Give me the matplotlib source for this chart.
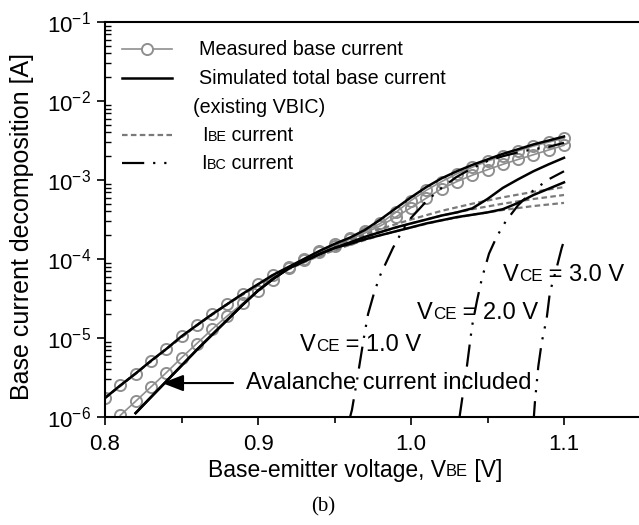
import matplotlib
matplotlib.use('Agg')
import matplotlib.pyplot as plt
from matplotlib.offsetbox import TextArea, HPacker, AnnotationBbox
from matplotlib.ticker import LogLocator, MultipleLocator, FormatStrFormatter, NullFormatter

plt.rcParams['font.family'] = 'Liberation Sans'
plt.rcParams['mathtext.fontset'] = 'custom'
plt.rcParams['mathtext.rm'] = 'Liberation Sans'
plt.rcParams['axes.unicode_minus'] = False

# measured base current, two bias sweeps [V], [A]
vbe_meas_1 = [0.80, 0.81, 0.82, 0.83, 0.84, 0.85, 0.86, 0.87, 0.88, 0.89, 0.90,
              0.91, 0.92, 0.93, 0.94, 0.95, 0.96, 0.97, 0.98, 0.99, 1.00,
              1.01, 1.02, 1.03, 1.04, 1.05, 1.06, 1.07, 1.08, 1.09, 1.10]
ib_meas_1 = [1.74e-6, 2.51e-6, 3.55e-6, 5.13e-6, 7.24e-6, 1.05e-5, 1.45e-5, 2.00e-5, 2.69e-5, 3.63e-5, 4.79e-5,
             6.31e-5, 7.94e-5, 1.00e-4, 1.26e-4, 1.55e-4, 1.86e-4, 2.24e-4, 2.82e-4, 3.89e-4, 5.50e-4,
             7.41e-4, 9.55e-4, 1.20e-3, 1.45e-3, 1.74e-3, 2.00e-3, 2.34e-3, 2.69e-3, 3.02e-3, 3.39e-3]

vbe_meas_2 = [0.81, 0.82, 0.83, 0.84, 0.85, 0.86, 0.87, 0.88, 0.89, 0.90,
              0.91, 0.92, 0.93, 0.94, 0.95, 0.96, 0.97, 0.98, 0.99, 1.00,
              1.01, 1.02, 1.03, 1.04, 1.05, 1.06, 1.07, 1.08, 1.09, 1.10]
ib_meas_2 = [1.05e-6, 1.58e-6, 2.40e-6, 3.63e-6, 5.62e-6, 8.51e-6, 1.29e-5, 1.91e-5, 2.75e-5, 3.89e-5,
             5.50e-5, 7.59e-5, 9.77e-5, 1.23e-4, 1.48e-4, 1.78e-4, 2.14e-4, 2.63e-4, 3.39e-4, 4.47e-4,
             5.89e-4, 7.76e-4, 9.55e-4, 1.15e-3, 1.35e-3, 1.58e-3, 1.82e-3, 2.09e-3, 2.40e-3, 2.75e-3]

# simulated total base current, existing VBIC
vbe_sim = vbe_meas_1
ib_sim_vbic = [1.74e-6, 2.51e-6, 3.55e-6, 5.13e-6, 7.24e-6, 1.05e-5, 1.45e-5, 2.00e-5, 2.69e-5, 3.63e-5, 4.79e-5,
               6.31e-5, 7.94e-5, 1.00e-4, 1.26e-4, 1.55e-4, 1.86e-4, 2.34e-4, 3.16e-4, 4.37e-4, 6.03e-4,
               8.13e-4, 1.05e-3, 1.29e-3, 1.55e-3, 1.82e-3, 2.14e-3, 2.45e-3, 2.82e-3, 3.16e-3, 3.55e-3]

# simulated total base current with avalanche, VCE = 2 V and 3 V
vbe_sim_av = [0.82, 0.83, 0.84, 0.85, 0.86, 0.87, 0.88, 0.89, 0.90,
              0.91, 0.92, 0.93, 0.94, 0.95, 0.96, 0.97, 0.98, 0.99, 1.00,
              1.01, 1.02, 1.03, 1.04, 1.05, 1.06, 1.07, 1.08, 1.09, 1.10]
ib_sim_av_2 = [1.12e-6, 1.78e-6, 2.82e-6, 4.47e-6, 7.08e-6, 1.10e-5, 1.70e-5, 2.63e-5, 3.98e-5,
               5.62e-5, 7.59e-5, 9.33e-5, 1.15e-4, 1.38e-4, 1.62e-4, 1.91e-4, 2.19e-4, 2.51e-4, 2.82e-4,
               3.16e-4, 3.55e-4, 3.89e-4, 4.37e-4, 5.75e-4, 7.94e-4, 1.02e-3, 1.29e-3, 1.58e-3, 1.91e-3]
ib_sim_av_3 = [1.12e-6, 1.78e-6, 2.82e-6, 4.47e-6, 7.08e-6, 1.10e-5, 1.70e-5, 2.63e-5, 3.98e-5,
               5.62e-5, 7.59e-5, 9.33e-5, 1.15e-4, 1.38e-4, 1.55e-4, 1.78e-4, 2.00e-4, 2.24e-4, 2.51e-4,
               2.82e-4, 3.09e-4, 3.39e-4, 3.63e-4, 3.89e-4, 4.27e-4, 5.13e-4, 6.46e-4, 7.76e-4, 9.33e-4]

# IBE component for the three VCE values
vbe_ibe = [0.80, 0.82, 0.84, 0.86, 0.88, 0.90, 0.92, 0.94, 0.96, 0.98, 1.00, 1.02, 1.04, 1.06, 1.08, 1.10]
ibe_1 = [1.74e-6, 3.55e-6, 7.24e-6, 1.45e-5, 2.69e-5, 4.68e-5, 7.76e-5, 1.20e-4,
         1.74e-4, 2.40e-4, 3.16e-4, 4.07e-4, 5.01e-4, 6.03e-4, 7.08e-4, 8.13e-4]
ibe_2 = [1.74e-6, 3.55e-6, 7.24e-6, 1.45e-5, 2.69e-5, 4.68e-5, 7.59e-5, 1.15e-4,
         1.62e-4, 2.19e-4, 2.82e-4, 3.55e-4, 4.27e-4, 5.01e-4, 5.75e-4, 6.46e-4]
ibe_3 = [1.74e-6, 3.55e-6, 7.24e-6, 1.45e-5, 2.69e-5, 4.68e-5, 7.41e-5, 1.10e-4,
         1.51e-4, 2.00e-4, 2.51e-4, 3.09e-4, 3.63e-4, 4.17e-4, 4.68e-4, 5.13e-4]

# IBC component (magnitude) for VCE = 1, 2, 3 V
vbe_ibc_1 = [0.9595, 0.9614, 0.9650, 0.9690, 0.9719, 0.9760, 0.9800, 0.9882, 0.9950, 1.000,
             1.010, 1.020, 1.030, 1.040, 1.050, 1.060, 1.070, 1.080, 1.090, 1.100]
ibc_1 = [8.91e-7, 1.23e-6, 3.16e-6, 9.55e-6, 2.00e-5, 3.80e-5, 6.31e-5, 1.38e-4, 2.40e-4, 3.31e-4,
         5.37e-4, 7.94e-4, 1.10e-3, 1.41e-3, 1.74e-3, 2.00e-3, 2.24e-3, 2.45e-3, 2.63e-3, 2.95e-3]
vbe_ibc_2 = [1.0315, 1.0333, 1.0366, 1.0399, 1.0431, 1.0464, 1.0510, 1.0560, 1.0620, 1.0700, 1.0800, 1.0900, 1.1000]
ibc_2 = [9.33e-7, 1.62e-6, 4.47e-6, 1.41e-5, 2.95e-5, 5.75e-5, 1.17e-4, 1.91e-4, 3.02e-4, 4.79e-4, 7.41e-4, 1.02e-3, 1.29e-3]
vbe_ibc_3 = [1.0800, 1.0810, 1.0832, 1.0854, 1.0887, 1.0908, 1.0948, 1.0985, 1.1000]
ibc_3 = [8.32e-7, 1.55e-6, 4.37e-6, 8.71e-6, 1.78e-5, 3.80e-5, 7.24e-5, 1.38e-4, 1.70e-4]

MEAS_GRAY = '#8f8f8f'
IBE_GRAY = '#7a7a7a'
IBE_DASH = (0, (2.5, 1.5))
IBC_DASH = (0, (10, 4, 1, 4, 1, 4))


def mixed_text(ax, xy, parts, size, coords='data', align=(0, 0.5)):
    # small-caps style subscripts: pieces on one baseline with their own sizes
    boxes = [TextArea(s, textprops=dict(size=size * k, color='black')) for s, k in parts]
    row = HPacker(children=boxes, align='baseline', pad=0, sep=0)
    ab = AnnotationBbox(row, xy, xycoords=coords, frameon=False, box_alignment=align, pad=0)
    ax.add_artist(ab)
    return ab


fig = plt.figure(figsize=(6.39, 5.25), dpi=100)
ax = fig.add_axes([105 / 639, 108 / 525, 535.5 / 639, 395 / 525])

ax.plot(vbe_meas_1, ib_meas_1, color=MEAS_GRAY, lw=1.2, marker='o', ms=8, mfc='none', mew=1.4, zorder=2)
ax.plot(vbe_meas_2, ib_meas_2, color=MEAS_GRAY, lw=1.2, marker='o', ms=8, mfc='none', mew=1.4, zorder=2)

for ibe in (ibe_1, ibe_2, ibe_3):
    ax.plot(vbe_ibe, ibe, color=IBE_GRAY, lw=1.6, ls=IBE_DASH, zorder=3)

ax.plot(vbe_sim, ib_sim_vbic, color='black', lw=1.8, zorder=4)
ax.plot(vbe_sim_av, ib_sim_av_2, color='black', lw=1.8, zorder=4)
ax.plot(vbe_sim_av, ib_sim_av_3, color='black', lw=1.8, zorder=4)

for v, ibc in ((vbe_ibc_1, ibc_1), (vbe_ibc_2, ibc_2), (vbe_ibc_3, ibc_3)):
    ax.plot(v, ibc, color='black', lw=1.6, ls=IBC_DASH, zorder=5)

ax.set_yscale('log')
ax.set_xlim(0.8, 1.15)
ax.set_ylim(1e-6, 1e-1)

ax.xaxis.set_major_locator(MultipleLocator(0.1))
ax.xaxis.set_minor_locator(MultipleLocator(0.05))
ax.xaxis.set_major_formatter(FormatStrFormatter('%.1f'))
ax.yaxis.set_major_locator(LogLocator(base=10, numticks=10))
ax.yaxis.set_minor_locator(LogLocator(base=10, subs=range(2, 10), numticks=10))
ax.yaxis.set_minor_formatter(NullFormatter())

ax.tick_params(axis='both', which='major', direction='out', length=6, width=1.2, labelsize=16, pad=4)
ax.tick_params(axis='y', which='minor', direction='in', length=4, width=1)
ax.tick_params(axis='x', which='minor', direction='out', length=4, width=1.2)
ax.tick_params(axis='x', which='major', pad=6)
for sp in ax.spines.values():
    sp.set_linewidth(1.5)

# legend, drawn by hand so the IBE / IBC subscripts keep the small-caps look
key_x = [0.0317, 0.1251]
rows = [0.9316, 0.8582, 0.7823, 0.7139, 0.6430]
ax.plot(key_x, [rows[0]] * 2, color=MEAS_GRAY, lw=1.2, transform=ax.transAxes, clip_on=False)
ax.plot([sum(key_x) / 2], [rows[0]], color=MEAS_GRAY, marker='o', ms=8, mfc='white', mew=1.4,
        transform=ax.transAxes)
ax.plot(key_x, [rows[1]] * 2, color='black', lw=1.8, transform=ax.transAxes)
ax.plot(key_x, [rows[3]] * 2, color=IBE_GRAY, lw=1.6, ls=IBE_DASH, transform=ax.transAxes)
ax.plot(key_x, [rows[4]] * 2, color='black', lw=1.6, ls=IBC_DASH, transform=ax.transAxes)

leg_size = 14.2
ax.text(0.1755, rows[0], 'Measured base current', transform=ax.transAxes, size=leg_size, va='center')
ax.text(0.1755, rows[1], 'Simulated total base current', transform=ax.transAxes, size=leg_size, va='center')
ax.text(0.1643, rows[2], '(existing VBIC)', transform=ax.transAxes, size=leg_size, va='center')
mixed_text(ax, (0.1811, rows[3]), [('I', 1), ('BE', 0.72), (' current', 1)], leg_size, coords='axes fraction')
mixed_text(ax, (0.1793, rows[4]), [('I', 1), ('BC', 0.72), (' current', 1)], leg_size, coords='axes fraction')

# bias labels and the avalanche note
lab_size = 17
mixed_text(ax, (0.9275, 8.15e-6), [('V', 1), ('CE', 0.72), (' = 1.0 V', 1)], lab_size)
mixed_text(ax, (1.0039, 2.07e-5), [('V', 1), ('CE', 0.72), (' = 2.0 V', 1)], lab_size)
mixed_text(ax, (1.0601, 6.26e-5), [('V', 1), ('CE', 0.72), (' = 3.0 V', 1)], lab_size)

ax.annotate('', xy=(0.8373, 2.69e-6), xytext=(0.8837, 2.69e-6),
            arrowprops=dict(arrowstyle='-|>,head_length=0.65,head_width=0.25', mutation_scale=20,
                            lw=1.5, color='black', shrinkA=0, shrinkB=0))
ax.text(0.8922, 2.69e-6, 'Avalanche current included', size=lab_size, va='center', ha='left')

# axis titles
fig.text(22 / 639, 1 - 226 / 525, 'Base current decomposition [A]', rotation=90, size=18,
         ha='center', va='center')
mixed_text(ax, (208, 525 - 470), [('Base-emitter voltage, V', 1), ('BE', 0.72), (' [V]', 1)], 16.5,
           coords='figure pixels')
fig.text(323 / 639, 1 - 507 / 525, '(b)', family='Liberation Serif', size=15, ha='center', va='center')

fig.savefig('out.png', dpi=100)
